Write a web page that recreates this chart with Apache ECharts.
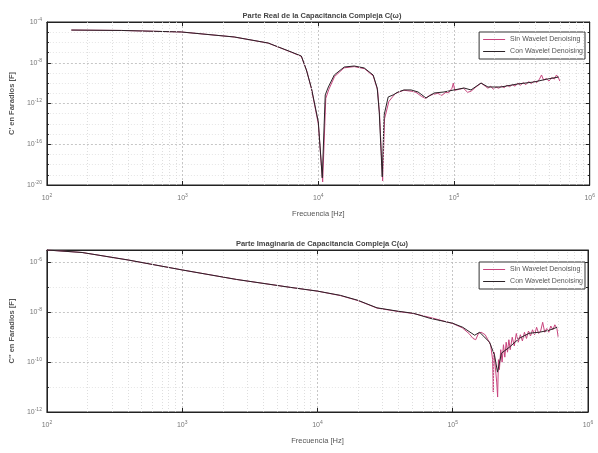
<!doctype html>
<html>
<head>
<meta charset="utf-8">
<title>Capacitancia Compleja</title>
<script src="https://cdn.jsdelivr.net/npm/echarts@6/dist/echarts.min.js"></script>
<style>
  html, body { margin: 0; padding: 0; background: #fff; }
  #chart { width: 598px; height: 453px; }
</style>
</head>
<body>
<div id="chart"></div>
<script>
// [log10 f (Hz), log10 C (F)]
var realSin = [
  [2.18,-4.79],[2.55,-4.83],[2.99,-4.98],[3.38,-5.47],[3.63,-6.07],[3.80,-6.96],[3.875,-7.38],
  [3.915,-8.8],[3.95,-10.6],[4.0,-14.0],[4.032,-19.7],[4.055,-11.5],[4.078,-10.6],[4.12,-9.35],
  [4.19,-8.5],[4.265,-8.38],[4.34,-8.58],[4.405,-9.3],[4.437,-10.7],[4.452,-13.2],[4.474,-19.6],
  [4.488,-13.5],[4.52,-11.8],[4.55,-11.3],[4.57,-11.0],[4.59,-10.9],[4.63,-10.7],[4.66,-10.75],
  [4.69,-10.8],[4.72,-10.9],[4.76,-11.3],[4.79,-11.5],[4.82,-11.2],[4.85,-11.1],[4.88,-11.0],
  [4.91,-11.2],[4.94,-10.9],[4.96,-10.95],[4.985,-10.5],[4.995,-10.0],[5.005,-10.7],[5.04,-10.6],
  [5.07,-10.5],[5.10,-10.9],[5.125,-10.8],[5.16,-10.4],[5.2,-10.0],[5.23,-10.3],[5.25,-10.5],
  [5.27,-10.3],[5.29,-10.6],[5.31,-10.4],[5.33,-10.5],[5.35,-10.3],[5.37,-10.45],[5.39,-10.2],
  [5.41,-10.35],[5.43,-10.15],[5.45,-10.3],[5.47,-10.0],[5.49,-10.2],[5.51,-9.95],[5.53,-10.15],
  [5.55,-9.85],[5.57,-10.05],[5.59,-9.8],[5.61,-9.95],[5.63,-9.6],[5.645,-9.2],[5.66,-9.7],
  [5.68,-9.55],[5.70,-9.8],[5.72,-9.45],[5.74,-9.6],[5.755,-9.2],[5.77,-9.5],[5.78,-9.8]
];
var realCon = [
  [2.18,-4.79],[2.55,-4.83],[2.99,-4.98],[3.38,-5.47],[3.63,-6.06],[3.80,-6.94],[3.875,-7.34],
  [3.912,-8.71],[3.949,-10.48],[4.0,-13.81],[4.029,-19.3],[4.051,-11.16],[4.074,-10.38],
  [4.118,-9.2],[4.191,-8.42],[4.265,-8.32],[4.338,-8.51],[4.404,-9.2],[4.434,-10.48],
  [4.449,-12.83],[4.471,-19.2],[4.485,-13.13],[4.515,-11.36],[4.551,-11.16],[4.588,-10.87],
  [4.632,-10.67],[4.684,-10.67],[4.735,-10.87],[4.794,-11.46],[4.853,-10.97],[4.926,-10.87],
  [5.0,-10.67],[5.074,-10.48],[5.125,-10.67],[5.199,-9.99],[5.25,-10.38],[5.346,-10.38],
  [5.471,-10.08],[5.588,-9.89],[5.691,-9.59],[5.772,-9.4]
];
var imagSin = [
  [2.0,-5.5],[2.26,-5.6],[2.6,-5.9],[3.0,-6.3],[3.4,-6.68],[3.8,-7.0],[4.0,-7.15],[4.17,-7.33],
  [4.3,-7.53],[4.44,-7.83],[4.6,-7.97],[4.71,-8.05],[4.85,-8.23],[5.0,-8.45],[5.07,-8.62],
  [5.12,-8.85],[5.15,-9.05],[5.17,-9.1],[5.19,-8.85],[5.21,-8.8],[5.24,-8.9],[5.26,-9.1],
  [5.28,-9.3],[5.295,-9.9],[5.30,-11.2],[5.305,-9.6],[5.315,-10.2],[5.325,-10.8],[5.332,-11.4],
  [5.338,-9.9],[5.345,-10.3],[5.355,-9.5],[5.365,-10.0],[5.375,-9.3],[5.385,-9.8],[5.395,-9.2],
  [5.405,-9.6],[5.415,-9.1],[5.425,-9.5],[5.44,-9.0],[5.455,-9.35],[5.47,-8.85],[5.485,-9.2],
  [5.50,-8.9],[5.515,-9.15],[5.53,-8.8],[5.545,-9.05],[5.56,-8.75],[5.575,-8.95],[5.59,-8.7],
  [5.605,-8.9],[5.62,-8.6],[5.635,-8.85],[5.65,-8.75],[5.665,-8.4],[5.68,-8.8],[5.695,-8.65],
  [5.71,-8.8],[5.725,-8.55],[5.74,-8.7],[5.755,-8.5],[5.77,-8.65],[5.78,-9.0]
];
var imagCon = [
  [2.0,-5.5],[2.26,-5.6],[2.6,-5.9],[3.0,-6.3],[3.4,-6.68],[3.8,-7.0],[4.0,-7.15],[4.17,-7.32],
  [4.3,-7.52],[4.44,-7.82],[4.6,-7.96],[4.71,-8.04],[4.831,-8.24],[5.0,-8.44],[5.074,-8.6],
  [5.162,-8.92],[5.199,-8.8],[5.272,-9.2],[5.309,-9.72],[5.331,-10.4],[5.36,-9.64],[5.419,-9.4],
  [5.493,-9.04],[5.566,-8.84],[5.64,-8.8],[5.713,-8.72],[5.772,-8.6]
];
var freqTicks = [2, 3, 4, 5, 6];
var titles = ['Parte Real de la Capacitancia Compleja C(\u03c9)', 'Parte Imaginaria de Capacitancia Compleja C(\u03c9)'];
var yNames = ["C' en Faradios [F]", "C'' en Faradios [F]"];
var names = ['Sin Wavelet Denoising', 'Con Wavelet Denoising'];

// log-spaced minor grid lines (2..9 in every decade)
var minorX = [];
for (var d = freqTicks[0]; d < freqTicks[freqTicks.length - 1]; d++) {
  for (var k = 2; k <= 9; k++) minorX.push({ xAxis: d + Math.log10(k) });
}

var chart = echarts.init(document.getElementById('chart'));

function powLabel(v) { return '10{e|' + v + '}'; }
var labelStyle = {
  color: '#777', fontSize: 7, fontFamily: 'Liberation Sans',
  rich: { e: { fontSize: 5, color: '#777', padding: [0, 0, 5, 0] } }
};
var majorGrid = { show: true, lineStyle: { color: '#b8b8b8', type: [2, 2], width: 0.8 } };
var minorGrid = { show: true, lineStyle: { color: '#dedede', type: [1, 2], width: 0.8 } };
var pink = '#c8457e', dark = '#2b2226';

function xAxes(gi) {
  return [{
    type: 'value', gridIndex: gi, min: 2, max: 6, interval: 1, position: 'bottom',
    name: 'Frecuencia [Hz]', nameLocation: 'middle', nameGap: 25,
    nameTextStyle: { color: '#555', fontSize: 7.5, fontFamily: 'Liberation Sans' },
    axisLine: { lineStyle: { color: '#222' } },
    axisTick: { inside: true, length: 4, lineStyle: { color: '#222' } },
    axisLabel: Object.assign({ formatter: powLabel, margin: 8 }, labelStyle),
    splitLine: majorGrid
  }, {
    type: 'value', gridIndex: gi, min: 2, max: 6, interval: 1, position: 'top',
    axisLine: { lineStyle: { color: '#222' } },
    axisTick: { inside: true, length: 4, lineStyle: { color: '#222' } },
    axisLabel: { show: false }, splitLine: { show: false }
  }];
}
function yAxes(gi, min, max, interval, minorSplit, name) {
  return [{
    type: 'value', gridIndex: gi, min: min, max: max, interval: interval, position: 'left',
    name: name, nameLocation: 'middle', nameGap: 24,
    nameTextStyle: { color: '#555', fontSize: 7.5, fontWeight: 'bold', fontFamily: 'Liberation Sans' },
    axisLine: { lineStyle: { color: '#222' } },
    axisTick: { inside: true, length: 4, lineStyle: { color: '#222' } },
    minorTick: { show: true, splitNumber: minorSplit, length: 2, lineStyle: { color: '#222' } },
    axisLabel: Object.assign({ formatter: powLabel, margin: 5, showMaxLabel: max % interval === 0 }, labelStyle),
    splitLine: majorGrid,
    minorSplitLine: minorGrid
  }, {
    type: 'value', gridIndex: gi, min: min, max: max, interval: interval, position: 'right',
    axisLine: { lineStyle: { color: '#222' } },
    axisTick: { inside: true, length: 4, lineStyle: { color: '#222' } },
    minorTick: { show: true, splitNumber: minorSplit, length: 2, lineStyle: { color: '#222' } },
    axisLabel: { show: false }, splitLine: { show: false }
  }];
}

function lineSeries(name, data, color, gi, withMinor) {
  var s = {
    name: name, type: 'line', data: data, xAxisIndex: gi * 2, yAxisIndex: gi * 2,
    symbol: 'none', showSymbol: false, clip: true,
    lineStyle: { color: color, width: 1 }, itemStyle: { color: color }
  };
  if (withMinor) {
    s.markLine = {
      silent: true, symbol: 'none', label: { show: false }, animation: false,
      lineStyle: { color: '#d6d6d6', type: [1, 2], width: 0.8 },
      data: minorX
    };
  }
  return s;
}

var legendBase = {
  orient: 'vertical', right: 13, icon: 'rect', itemWidth: 22, itemHeight: 1, itemGap: 5,
  backgroundColor: '#fff', borderColor: '#333', borderWidth: 1, borderRadius: 0,
  padding: [4, 2, 4, 4],
  textStyle: { color: '#555', fontSize: 7, fontFamily: 'Liberation Sans' },
  data: names
};

chart.setOption({
  animation: false,
  backgroundColor: '#fff',
  title: [
    { text: titles[0], left: 317, top: 7, textAlign: 'center',
      textStyle: { fontSize: 7.5, fontWeight: 'bold', color: '#444', fontFamily: 'Liberation Sans' } },
    { text: titles[1], left: 317, top: 235, textAlign: 'center',
      textStyle: { fontSize: 7.5, fontWeight: 'bold', color: '#444', fontFamily: 'Liberation Sans' } }
  ],
  legend: [
    Object.assign({ top: 32 }, legendBase),
    Object.assign({ top: 262 }, legendBase)
  ],
  grid: [
    { left: 45, right: 8, top: 22, height: 163, show: true, borderColor: '#222', borderWidth: 1 },
    { left: 45, right: 10, top: 250, height: 162, show: true, borderColor: '#222', borderWidth: 1 }
  ],
  xAxis: xAxes(0).concat(xAxes(1)),
  yAxis: yAxes(0, -20, -4, 4, 4, yNames[0]).concat(yAxes(1, -12, -5.5, 2, 2, yNames[1])),
  series: [
    lineSeries(names[0], realSin, pink, 0, true),
    lineSeries(names[1], realCon, dark, 0, false),
    lineSeries(names[0], imagSin, pink, 1, true),
    lineSeries(names[1], imagCon, dark, 1, false)
  ]
});
</script>
</body>
</html>
